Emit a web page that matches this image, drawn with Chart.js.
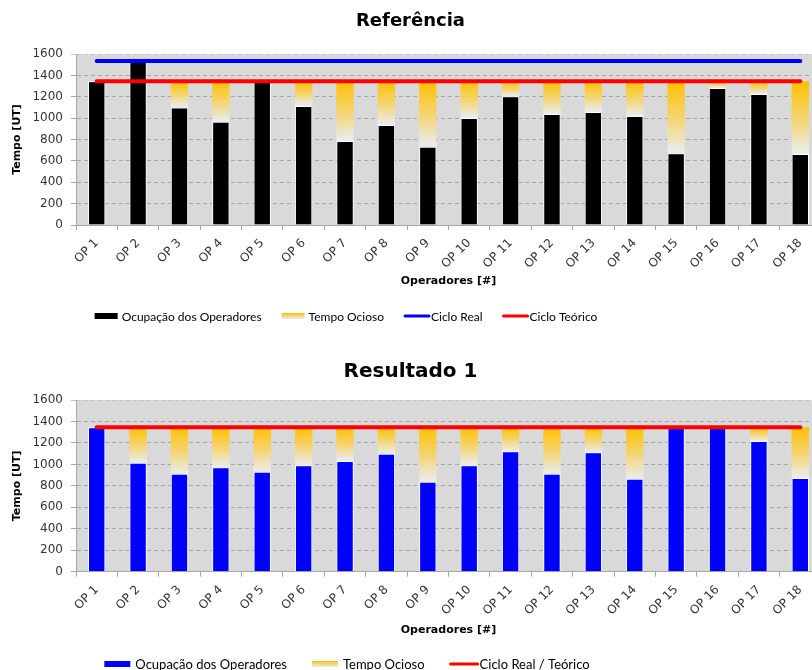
<!DOCTYPE html>
<html>
<head>
<meta charset="utf-8">
<script src="https://cdn.jsdelivr.net/npm/chart.js@4.4.1/dist/chart.umd.min.js"></script>
<style>
  html, body { margin: 0; padding: 0; background: #fff; overflow: hidden; }
  canvas { display: block; }
</style>
</head>
<body>
<canvas id="chartReferencia" width="830" height="345"></canvas>
<canvas id="chartResultado" width="830" height="325"></canvas>
<script>
// Dados
const operadores = ['OP 1', 'OP 2', 'OP 3', 'OP 4', 'OP 5', 'OP 6', 'OP 7', 'OP 8', 'OP 9',
  'OP 10', 'OP 11', 'OP 12', 'OP 13', 'OP 14', 'OP 15', 'OP 16', 'OP 17', 'OP 18'];

const ocupacaoReferencia = [1345, 1535, 1100, 967, 1345, 1114, 786, 936, 733,
  1001, 1204, 1039, 1058, 1020, 671, 1282, 1226, 665];
const cicloRealReferencia = 1535;
const cicloTeoricoReferencia = 1345;

const ocupacaoResultado1 = [1345, 1016, 913, 973, 932, 991, 1032, 1100, 838,
  991, 1122, 913, 1113, 867, 1345, 1345, 1218, 873];
const cicloResultado1 = 1345;

const ticksTempo = [0, 200, 400, 600, 800, 1000, 1200, 1400, 1600];

Chart.defaults.font.family = 'DejaVu Sans';
Chart.defaults.color = '#333';

const AMARELO = '#FFC000';
const AMARELO_FIM = '#EAEDF2';

// fundo cinza da área do gráfico
const fundoPlugin = {
  id: 'fundoCinza',
  beforeDraw(chart) {
    const { ctx, chartArea: a } = chart;
    ctx.save();
    ctx.fillStyle = '#D9D9D9';
    ctx.fillRect(a.left, a.top, a.right - a.left, a.bottom - a.top);
    ctx.restore();
  }
};

// legenda no estilo do Excel
const legendaPlugin = {
  id: 'legendaExcel',
  afterDraw(chart, args, opts) {
    const ctx = chart.ctx;
    ctx.save();
    ctx.font = opts.fontSize + 'px Lato';
    ctx.textBaseline = 'middle';
    ctx.fillStyle = '#000';
    const items = chart.data.datasets.map(ds => {
      const isLine = ds.type === 'line';
      const mark = isLine ? opts.lineLen : opts.boxW;
      const gap = isLine ? opts.lineGap : opts.boxGap;
      return { ds, isLine, mark, gap, w: mark + gap + ctx.measureText(ds.label).width };
    });
    let total = items.reduce((s, it) => s + it.w, 0) + opts.itemGap * (items.length - 1);
    let x = opts.centerX - total / 2;
    const y = opts.y;
    items.forEach(it => {
      if (it.isLine) {
        ctx.strokeStyle = it.ds.borderColor;
        ctx.lineWidth = 3;
        ctx.lineCap = 'round';
        ctx.beginPath();
        ctx.moveTo(x + 1, y);
        ctx.lineTo(x + it.mark - 1, y);
        ctx.stroke();
      } else {
        if (it.ds.legendGradient) {
          const g = ctx.createLinearGradient(0, y - opts.boxH / 2, 0, y + opts.boxH / 2);
          g.addColorStop(0, AMARELO);
          g.addColorStop(1, AMARELO_FIM);
          ctx.fillStyle = g;
        } else {
          ctx.fillStyle = it.ds.backgroundColor;
        }
        ctx.fillRect(x, y - opts.boxH / 2, it.mark, opts.boxH);
      }
      ctx.fillStyle = '#000';
      ctx.fillText(it.ds.label, x + it.mark + it.gap, y + 1);
      x += it.w + opts.itemGap;
    });
    ctx.restore();
  }
};

function gradienteOcioso(ocupacao, ciclo) {
  return context => {
    const chart = context.chart;
    if (!chart.chartArea) return AMARELO;
    const i = context.dataIndex;
    const yScale = chart.scales.y;
    const topo = yScale.getPixelForValue(ciclo);
    const base = yScale.getPixelForValue(ocupacao[i]);
    if (base - topo < 1) return AMARELO;
    const g = chart.ctx.createLinearGradient(0, topo, 0, base);
    g.addColorStop(0, AMARELO);
    g.addColorStop(0.55, '#F4D679');
    g.addColorStop(1, AMARELO_FIM);
    return g;
  };
}

function linha(label, valor, cor, stack) {
  return {
    type: 'line',
    label: label,
    data: operadores.map(() => valor),
    borderColor: cor,
    borderWidth: 4,
    borderCapStyle: 'round',
    pointRadius: 0,
    fill: false,
    order: 0,
    stack: stack
  };
}

function criarGrafico(id, cfg) {
  const ocioso = cfg.ocupacao.map(v => Math.max(0, cfg.ciclo - v));
  const datasets = [
    {
      type: 'bar',
      label: 'Ocupação dos Operadores',
      data: cfg.ocupacao,
      backgroundColor: cfg.corBarra,
      borderColor: '#FFFFFF',
      borderWidth: 1,
      barPercentage: 0.42,
      categoryPercentage: 1.0,
      order: 1,
      stack: 'barras'
    },
    {
      type: 'bar',
      label: 'Tempo Ocioso',
      data: ocioso,
      backgroundColor: gradienteOcioso(cfg.ocupacao, cfg.ciclo),
      legendGradient: true,
      borderWidth: 0,
      barPercentage: 0.42,
      categoryPercentage: 1.0,
      order: 1,
      stack: 'barras'
    }
  ].concat(cfg.linhas);

  return new Chart(document.getElementById(id), {
    type: 'bar',
    data: { labels: operadores, datasets: datasets },
    plugins: [fundoPlugin, legendaPlugin],
    options: {
      responsive: false,
      animation: false,
      layout: { padding: { top: 0, left: 0, right: 9, bottom: cfg.padBaixo } },
      plugins: {
        legend: { display: false },
        tooltip: { enabled: false },
        title: {
          display: true,
          text: cfg.titulo,
          color: '#000',
          font: { size: cfg.tamTitulo, weight: 'bold' },
          padding: cfg.padTitulo
        },
        legendaExcel: cfg.legenda
      },
      scales: {
        x: {
          stacked: true,
          afterFit: s => { s.height = cfg.alturaX; },
          grid: { drawOnChartArea: false, drawTicks: true, tickLength: 5, color: '#A6A6A6', offset: true },
          border: { display: true, color: '#A6A6A6' },
          ticks: { autoSkip: false, minRotation: 45, maxRotation: 45, padding: 6, font: { size: 12 }, color: '#333' },
          title: { display: true, text: 'Operadores [#]', color: '#000', font: { size: 11, weight: 'bold' }, padding: { top: 4, bottom: 2 } }
        },
        y: {
          stacked: true,
          min: 0,
          max: 1600,
          afterFit: s => { s.width = 76; },
          afterBuildTicks: s => { s.ticks = ticksTempo.map(v => ({ value: v })); },
          grid: {
            color: c => (c.tick && c.tick.value === 1600) ? '#C4C4C4' : '#A6A6A6',
            tickLength: 5
          },
          border: { display: true, color: '#A6A6A6', dash: [4, 3] },
          ticks: { padding: 8, font: { size: 12 }, color: '#333', callback: v => String(v) },
          title: { display: true, text: 'Tempo [UT]', color: '#000', font: { size: 11, weight: 'bold' }, padding: { top: 11, bottom: 0 } }
        }
      }
    }
  });
}

criarGrafico('chartReferencia', {
  titulo: 'Referência',
  tamTitulo: 18,
  padTitulo: { top: 11, bottom: 21.4 },
  ocupacao: ocupacaoReferencia,
  ciclo: cicloTeoricoReferencia,
  corBarra: '#000000',
  alturaX: 65,
  padBaixo: 55,
  linhas: [
    linha('Ciclo Real', cicloRealReferencia, '#0000FF', 'real'),
    linha('Ciclo Teórico', cicloTeoricoReferencia, '#FF0000', 'teorico')
  ],
  legenda: { centerX: 346, y: 316, fontSize: 12, boxW: 23, boxH: 6, boxGap: 4, lineLen: 26, lineGap: 1, itemGap: 20 }
});

criarGrafico('chartResultado', {
  titulo: 'Resultado 1',
  tamTitulo: 20,
  padTitulo: { top: 15, bottom: 16 },
  ocupacao: ocupacaoResultado1,
  ciclo: cicloResultado1,
  corBarra: '#0000FF',
  alturaX: 67,
  padBaixo: 31.3,
  linhas: [
    linha('Ciclo Real / Teórico', cicloResultado1, '#FF0000', 'ciclo')
  ],
  legenda: { centerX: 347, y: 319, fontSize: 13, boxW: 26, boxH: 6, boxGap: 5, lineLen: 29, lineGap: 1, itemGap: 25 }
});
</script>
</body>
</html>
